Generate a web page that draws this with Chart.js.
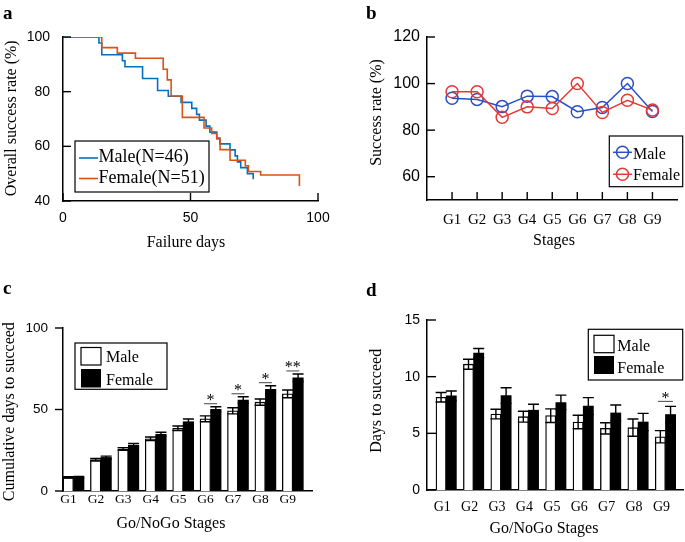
<!DOCTYPE html>
<html><head><meta charset="utf-8">
<script src="https://cdn.jsdelivr.net/npm/chart.js@4.4.0/dist/chart.umd.min.js"></script>
<style>
html,body{margin:0;padding:0;background:#fff;}
#wrap{position:relative;width:685px;height:542px;overflow:hidden;background:#fff;}
canvas{position:absolute;left:0;top:0;}
svg{position:absolute;left:0;top:0;}
</style></head><body>
<div id="wrap">
<canvas id="ca" width="685" height="542"></canvas>
<canvas id="cb" width="685" height="542"></canvas>
<canvas id="cc" width="685" height="542"></canvas>
<canvas id="cd" width="685" height="542"></canvas>
<svg width="685" height="542" font-family="'Liberation Serif', 'Times New Roman', serif" fill="#000">
<text x="3" y="18.5" font-size="19" font-weight="bold">a</text>
<text x="366" y="18.5" font-size="19" font-weight="bold">b</text>
<text x="3" y="293.5" font-size="19" font-weight="bold">c</text>
<text x="366" y="295.5" font-size="19" font-weight="bold">d</text>
<text transform="translate(15.6,118.3) rotate(-90)" text-anchor="middle" font-size="16">Overall success rate (%)</text>
<text x="186" y="247.3" text-anchor="middle" font-size="16">Failure days</text>
<text transform="translate(380.6,112.5) rotate(-90)" text-anchor="middle" font-size="16">Success rate (%)</text>
<text x="554" y="245" text-anchor="middle" font-size="16">Stages</text>
<text transform="translate(13.9,411.7) rotate(-90)" text-anchor="middle" font-size="16">Cumulative days to succeed</text>
<text x="171" y="528.3" text-anchor="middle" font-size="16">Go/NoGo Stages</text>
<text transform="translate(380.6,400.8) rotate(-90)" text-anchor="middle" font-size="16">Days to succeed</text>
<text x="544" y="533.3" text-anchor="middle" font-size="16">Go/NoGo Stages</text>
<!-- legend a -->
<rect x="75" y="141" width="134" height="51" fill="#fff" stroke="#000" stroke-width="1.2"/>
<line x1="79" y1="158" x2="98" y2="158" stroke="#0072BD" stroke-width="1.6"/>
<line x1="79" y1="178.5" x2="98" y2="178.5" stroke="#D95319" stroke-width="1.6"/>
<text x="98.5" y="162" font-size="18">Male(N=46)</text>
<text x="98.5" y="183" font-size="18">Female(N=51)</text>
<!-- legend b -->
<rect x="609.3" y="136" width="73.4" height="50.7" fill="#fff" stroke="#000" stroke-width="1.2"/>
<line x1="613" y1="152.3" x2="632" y2="152.3" stroke="#2b4fc4" stroke-width="1.5"/>
<circle cx="622.5" cy="152.3" r="6" fill="none" stroke="#2b4fc4" stroke-width="1.5"/>
<line x1="613" y1="174.3" x2="632" y2="174.3" stroke="#e53935" stroke-width="1.5"/>
<circle cx="622.5" cy="174.3" r="6" fill="none" stroke="#e53935" stroke-width="1.5"/>
<text x="633" y="158.5" font-size="16">Male</text>
<text x="633" y="180" font-size="16">Female</text>
<!-- legend c -->
<rect x="75" y="343" width="92" height="46.3" fill="#fff" stroke="#000" stroke-width="1.2"/>
<rect x="81" y="347.5" width="20" height="17.5" fill="#fff" stroke="#000" stroke-width="1.2"/>
<rect x="81" y="369" width="20" height="18.5" fill="#000"/>
<text x="106" y="362.3" font-size="16">Male</text>
<text x="106" y="385" font-size="16">Female</text>
<!-- legend d -->
<rect x="588.3" y="329.3" width="94.4" height="50.7" fill="#fff" stroke="#000" stroke-width="1.2"/>
<rect x="594" y="335.3" width="20" height="17.4" fill="#fff" stroke="#000" stroke-width="1.2"/>
<rect x="594" y="356" width="20" height="18" fill="#000"/>
<text x="617.3" y="351.3" font-size="16">Male</text>
<text x="617.3" y="373" font-size="16">Female</text>
</svg>
</div>
<script>
// ---------- DATA ----------
// Panel a: Kaplan-Meier style curves (day of step, rate after step)
const maleDaysA   = [0, 14.1, 15.2, 23.3, 24.3, 31.2, 37.1, 41.3, 46.3, 50.5, 52.4, 53.5, 56.1, 57.6, 60.3, 61.5, 65.5, 67.5, 68.4, 69.7, 72.3, 74.6];
const maleRateA   = [100, 97.8, 93.5, 91.3, 89.1, 84.8, 80.4, 78.3, 76.1, 73.9, 71.7, 69.6, 67.4, 65.2, 63.0, 60.9, 58.7, 56.5, 54.3, 52.2, 50.0, 48.0];
const femaleDaysA = [0, 15.2, 21.3, 28.4, 39.3, 40.9, 42.4, 46.8, 55.3, 58.3, 60.3, 61.6, 65.5, 71.5, 72.7, 77.5, 92.7];
const femaleRateA = [100, 96.1, 94.1, 92.2, 88.2, 84.3, 78.4, 70.6, 66.7, 64.7, 62.7, 58.8, 54.9, 52.9, 50.8, 49.5, 45.5];
const xTicksA = [0, 50, 100];
const yTicksA = [40, 60, 80, 100];

// Panels b-d categories
const stages = ['G1', 'G2', 'G3', 'G4', 'G5', 'G6', 'G7', 'G8', 'G9'];

// Panel b: success rate per stage
const maleRateB   = [93.7, 93.2, 90.1, 94.6, 94.4, 87.9, 89.7, 100, 88.0];
const femaleRateB = [96.5, 96.5, 85.5, 90.0, 89.3, 100, 87.6, 92.8, 88.6];
const yTicksB = [60, 80, 100, 120];

// Panel c: cumulative days to succeed (mean, sem)
const maleCum      = [8.3, 19.2, 25.8, 32.0, 38.5, 44.3, 49.2, 54.5, 59.6];
const maleCumErr   = [0.4, 0.8, 0.8, 1.1, 1.4, 1.8, 1.9, 1.9, 2.4];
const femaleCum    = [8.5, 20.6, 28.2, 34.8, 42.5, 50.1, 55.8, 62.4, 69.5];
const femaleCumErr = [0.4, 0.8, 1.0, 1.2, 1.7, 1.6, 2.0, 2.2, 2.3];
const sigC = ['', '', '', '', '', '*', '*', '*', '**'];
const yTicksC = [0, 50, 100];

// Panel d: days to succeed per stage (mean, sem)
const maleDaysD      = [8.18, 11.1, 6.7, 6.47, 6.56, 6.0, 5.44, 5.5, 4.7];
const maleDaysDErr   = [0.42, 0.44, 0.42, 0.48, 0.6, 0.6, 0.5, 0.76, 0.54];
const femaleDaysD    = [8.3, 12.08, 8.33, 7.04, 7.72, 7.4, 6.8, 6.0, 6.66];
const femaleDaysDErr = [0.44, 0.4, 0.69, 0.52, 0.65, 0.75, 0.7, 0.76, 0.72];
const sigD = ['', '', '', '', '', '', '', '', '*'];
const yTicksD = [0, 5, 10, 15];

// ---------- STYLE ----------
const SANS = "'Liberation Sans', Arial, sans-serif";
const SERIF = "'Liberation Serif', 'Times New Roman', serif";

const tickPlugin = {
  id: 'tickMarks',
  afterDraw(chart, args, opts) {
    const ctx = chart.ctx, ca = chart.chartArea;
    ctx.save(); ctx.strokeStyle = '#000'; ctx.lineWidth = 1.4;
    ['x', 'y'].forEach(k => {
      const o = opts[k]; if (!o) return;
      const s = chart.scales[k];
      s.ticks.forEach(t => {
        const p = s.getPixelForValue(t.value);
        ctx.beginPath();
        if (k === 'x') { ctx.moveTo(p, ca.bottom); ctx.lineTo(p, ca.bottom - o.dir * o.len); }
        else { ctx.moveTo(ca.left, p); ctx.lineTo(ca.left + o.dir * o.len, p); }
        ctx.stroke();
      });
    });
    ctx.restore();
  }
};

const errPlugin = {
  id: 'errBars',
  afterDatasetsDraw(chart, args, opts) {
    const ctx = chart.ctx, ys = chart.scales.y;
    ctx.save(); ctx.strokeStyle = '#000'; ctx.lineWidth = 1.4;
    chart.data.datasets.forEach((ds, i) => {
      const meta = chart.getDatasetMeta(i);
      meta.data.forEach((bar, j) => {
        const v = ds.data[j].y, e = ds.errors[j];
        const yt = ys.getPixelForValue(v + e), yb = ys.getPixelForValue(v - e);
        const hw = opts.cap;
        ctx.beginPath();
        ctx.moveTo(bar.x, yb); ctx.lineTo(bar.x, yt);
        ctx.moveTo(bar.x - hw, yt); ctx.lineTo(bar.x + hw, yt);
        ctx.moveTo(bar.x - hw, yb); ctx.lineTo(bar.x + hw, yb);
        ctx.stroke();
      });
    });
    // significance marks
    const m0 = chart.getDatasetMeta(0), m1 = chart.getDatasetMeta(1);
    const d0 = chart.data.datasets[0], d1 = chart.data.datasets[1];
    ctx.font = '16px ' + SERIF; ctx.textAlign = 'center'; ctx.textBaseline = 'alphabetic'; ctx.fillStyle = '#000';
    opts.sig.forEach((s, j) => {
      if (!s) return;
      const x = (m0.data[j].x + m1.data[j].x) / 2;
      const top = Math.min(ys.getPixelForValue(d0.data[j].y + d0.errors[j]), ys.getPixelForValue(d1.data[j].y + d1.errors[j]));
      const yl = top - opts.gap;
      ctx.lineWidth = 1; ctx.strokeStyle = '#444';
      ctx.beginPath(); ctx.moveTo(x - opts.lineHalf, yl); ctx.lineTo(x + opts.lineHalf, yl); ctx.stroke();
      ctx.fillText(s, x, yl + 1.5);
    });
    ctx.restore();
  }
};

function baseOpts(pad) {
  return {
    responsive: false, animation: false, events: [],
    layout: { padding: pad },
    plugins: { legend: { display: false }, tooltip: { enabled: false } }
  };
}
function yScale(min, max, ticksArr, padding, size) {
  return {
    type: 'linear', min, max,
    afterBuildTicks: s => { s.ticks = ticksArr.map(v => ({ value: v })); },
    afterFit: s => { s.width = 40; },
    grid: { display: false, drawTicks: false },
    border: { display: true, color: '#000', width: 1.5 },
    ticks: { padding, font: { family: SANS, size }, color: '#000', autoSkip: false }
  };
}
function xStageScale(min, max, padding, size, labelOffset) {
  return {
    type: 'linear', min, max, offset: false,
    afterBuildTicks: s => { s.ticks = stages.map((_, i) => ({ value: i + 1 })); },
    afterFit: s => { s.height = 30; },
    grid: { display: false, drawTicks: false },
    border: { display: true, color: '#000', width: 1.5 },
    ticks: { padding, labelOffset, font: { family: SERIF, size }, color: '#000', autoSkip: false, maxRotation: 0,
             callback: (v, i) => stages[i] }
  };
}
const pts = (xs, ys) => xs.map((x, i) => ({ x, y: ys[i] }));
const stagePts = ys => ys.map((y, i) => ({ x: i + 1, y }));

// ---------- PANEL A ----------
const optA = baseOpts({ left: 23, top: 37, right: 367, bottom: 311 });
optA.plugins.tickMarks = { x: { len: 8, dir: 1 }, y: { len: 8, dir: 1 } };
optA.scales = {
  x: { type: 'linear', min: 0, max: 100,
       afterBuildTicks: s => { s.ticks = xTicksA.map(v => ({ value: v })); },
       afterFit: s => { s.height = 30; },
       grid: { display: false, drawTicks: false },
       border: { display: true, color: '#000', width: 1.5 },
       ticks: { padding: 8.8, font: { family: SANS, size: 14 }, color: '#000', autoSkip: false, maxRotation: 0 } },
  y: yScale(40, 100, yTicksA, 13, 14)
};
new Chart(document.getElementById('ca'), {
  type: 'line',
  data: { datasets: [
    { label: 'Male(N=46)', data: pts(maleDaysA, maleRateA), borderColor: '#0072BD', borderWidth: 1.6, stepped: true, pointRadius: 0, fill: false, order: 1 },
    { label: 'Female(N=51)', data: pts(femaleDaysA, femaleRateA), borderColor: '#D95319', borderWidth: 1.6, stepped: true, pointRadius: 0, fill: false, order: 0 }
  ]},
  options: optA,
  plugins: [tickPlugin]
});

// ---------- PANEL B ----------
const optB = baseOpts({ left: 387, top: 37, right: 2, bottom: 312 });
optB.plugins.tickMarks = { x: { len: 8, dir: 1 }, y: { len: 8, dir: 1 } };
optB.scales = { x: xStageScale(0, 10, 10.9, 15, 0), y: yScale(50, 120, yTicksB, 7, 16) };
new Chart(document.getElementById('cb'), {
  type: 'line',
  data: { datasets: [
    { label: 'Male', data: stagePts(maleRateB), borderColor: '#2b4fc4', borderWidth: 1.5, pointRadius: 6, pointBorderWidth: 1.5,
      pointBorderColor: '#2b4fc4', pointBackgroundColor: 'rgba(0,0,0,0)', fill: false, order: 1 },
    { label: 'Female', data: stagePts(femaleRateB), borderColor: '#e53935', borderWidth: 1.5, pointRadius: 6, pointBorderWidth: 1.5,
      pointBorderColor: '#e53935', pointBackgroundColor: 'rgba(0,0,0,0)', fill: false, order: 0 }
  ]},
  options: optB,
  plugins: [tickPlugin]
});

// ---------- PANEL C ----------
const optC = baseOpts({ left: 23, top: 328, right: 373, bottom: 21 });
optC.plugins.tickMarks = { y: { len: 8, dir: -1 } };
optC.plugins.errBars = { cap: 5.5, sig: sigC, gap: 3, lineHalf: 6.5 };
optC.scales = { x: xStageScale(0.617, 9.70, 0.4, 13.5, -5), y: yScale(0, 100, yTicksC, 15, 13.5) };
new Chart(document.getElementById('cc'), {
  type: 'bar',
  data: { datasets: [
    { label: 'Male', data: stagePts(maleCum), errors: maleCumErr, backgroundColor: '#fff', borderColor: '#000', borderWidth: 1.3, barThickness: 10.5 },
    { label: 'Female', data: stagePts(femaleCum), errors: femaleCumErr, backgroundColor: '#000', borderColor: '#000', borderWidth: 0, barThickness: 10.5 }
  ]},
  options: optC,
  plugins: [tickPlugin, errPlugin]
});

// ---------- PANEL D ----------
const optD = baseOpts({ left: 387, top: 320, right: 2, bottom: 22 });
optD.plugins.tickMarks = { y: { len: 9, dir: 1 } };
optD.plugins.errBars = { cap: 5.5, sig: sigD, gap: 5, lineHalf: 7.5 };
optD.scales = { x: xStageScale(0.30, 9.64, 8.5, 14, -4), y: yScale(0, 15, yTicksD, 7, 14) };
new Chart(document.getElementById('cd'), {
  type: 'bar',
  data: { datasets: [
    { label: 'Male', data: stagePts(maleDaysD), errors: maleDaysDErr, backgroundColor: '#fff', borderColor: '#000', borderWidth: 1.3, barThickness: 10.2 },
    { label: 'Female', data: stagePts(femaleDaysD), errors: femaleDaysDErr, backgroundColor: '#000', borderColor: '#000', borderWidth: 0, barThickness: 10.2 }
  ]},
  options: optD,
  plugins: [tickPlugin, errPlugin]
});
</script>
</body></html>
